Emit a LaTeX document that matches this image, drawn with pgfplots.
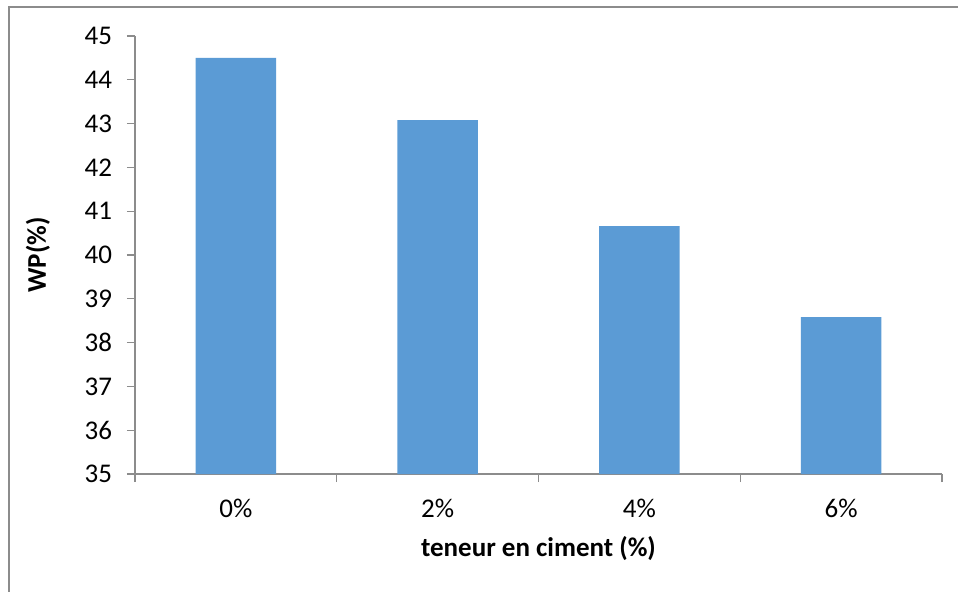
\documentclass[border=0pt]{standalone}
\usepackage{fontspec}
\setmainfont{Carlito}
\usepackage{pgfplots}
\pgfplotsset{compat=1.18}
\definecolor{barblue}{HTML}{5B9BD5}
\definecolor{axgray}{HTML}{8C8C8C}
\begin{document}
\begin{tikzpicture}
\path[use as bounding box] (0,0) rectangle (479pt,-296pt);
\draw[axgray, line width=0.8pt] (4.5pt,-310pt) -- (4.5pt,-3.5pt) -- (500pt,-3.5pt);
\begin{axis}[
  at={(67.5pt,-237pt)}, anchor=south west,
  scale only axis, width=403.5pt, height=219pt,
  font=\fontsize{13.5}{15}\selectfont,
  /pgf/number format/assume math mode=true,
  xmin=-0.5, xmax=3.5, ymin=35, ymax=45,
  axis x line*=bottom, axis y line*=left,
  axis line style={axgray, line width=0.6pt},
  ytick={35,36,...,45},
  xtick={0,1,2,3}, xticklabels={0\%,2\%,4\%,6\%},
  minor xtick={-0.5,0.5,1.5,2.5,3.5},
  tick align=outside,
  major tick length=4pt, minor tick length=4pt,
  xtick style={draw=none},
  minor x tick style={draw=axgray, line width=0.6pt},
  ytick style={axgray, line width=0.6pt},
  yticklabel style={anchor=east, xshift=-4pt},
  xticklabel style={anchor=center, yshift=-13pt},
  xlabel={\textbf{teneur en ciment (\%)}},
  ylabel={\textbf{WP(\%)}},
  xlabel style={at={(axis description cs:0.5,0)}, anchor=center, yshift=-37.5pt},
  ylabel style={at={(axis description cs:0,0.5)}, anchor=center, yshift=48.5pt},
]
\addplot[ybar, bar width=0.4, fill=barblue, draw=none] coordinates {
 (0,44.50) (1,43.08) (2,40.66) (3,38.58)};
\end{axis}
\end{tikzpicture}
\end{document}
